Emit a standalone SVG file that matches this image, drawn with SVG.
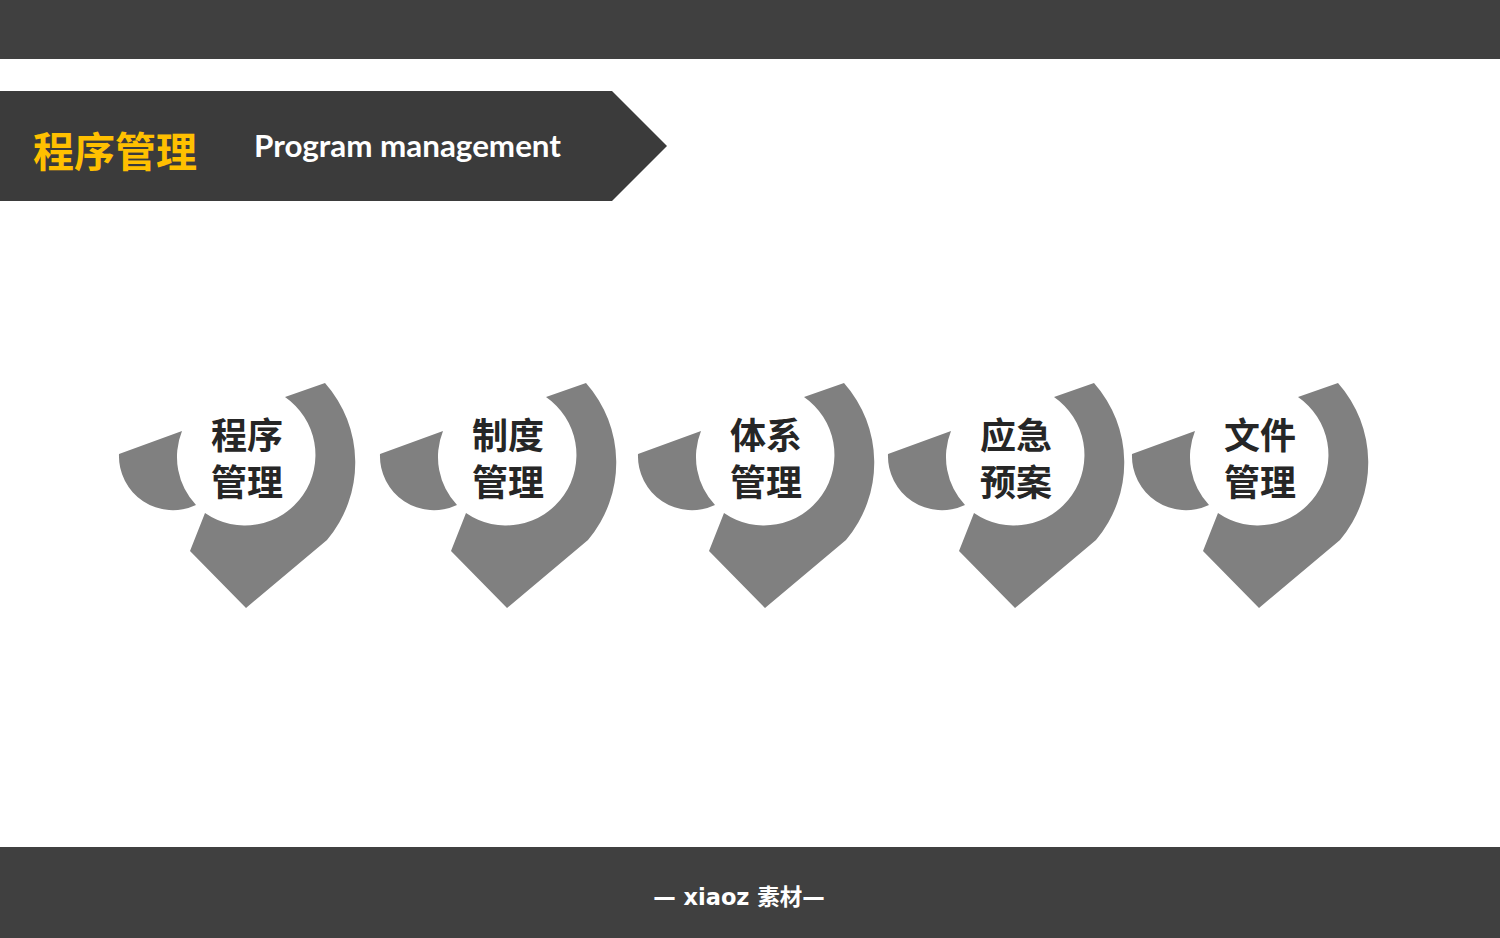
<svg xmlns="http://www.w3.org/2000/svg" xmlns:xlink="http://www.w3.org/1999/xlink" width="1500" height="938" viewBox="0 0 1500 938">
<style>
.piece{fill:#808080}
.lbl{font-family:"Noto Sans CJK SC","Noto Sans",sans-serif;font-weight:700;font-size:36px;fill:#262626;text-anchor:middle}
.bar{fill:#404040}
</style>
<defs>
<g id="pin">
<path class="piece" d="M 285,397 L 325,383 A 120 120 0 0 1 327,540 L 246,608 L 190,551 L 205,513 A 70 70 0 1 0 285,397 Z"/>
<path class="piece" d="M 119,454 L 182,431 A 70 70 0 0 0 196,505 A 54 54 0 0 1 119,454 Z"/>
</g>
</defs>
<rect width="1500" height="938" fill="#ffffff"/>
<rect class="bar" x="0" y="0" width="1500" height="59"/>
<rect class="bar" x="0" y="847" width="1500" height="91"/>
<g id="banner">
<path d="M 0,91 L 612,91 L 667,146 L 612,201 L 0,201 Z" fill="#3b3b3b"/>
<text x="33" y="167" font-family="'Noto Sans CJK SC',sans-serif" font-weight="700" font-size="41" fill="#FFC000">程序管理</text>
<text x="254" y="157" font-family="Lato,'Noto Sans',sans-serif" font-weight="700" font-size="31" fill="#ffffff" textLength="307" lengthAdjust="spacingAndGlyphs">Program management</text>
</g>
<g id="connectors"></g>
<g id="node1"><use xlink:href="#pin"/><text class="lbl" x="247" y="449">程序</text><text class="lbl" x="247" y="496">管理</text></g>
<g id="node2"><use xlink:href="#pin" transform="translate(261,0)"/><text class="lbl" x="508" y="449">制度</text><text class="lbl" x="508" y="496">管理</text></g>
<g id="node3"><use xlink:href="#pin" transform="translate(519,0)"/><text class="lbl" x="766" y="449">体系</text><text class="lbl" x="766" y="496">管理</text></g>
<g id="node4"><use xlink:href="#pin" transform="translate(769,0)"/><text class="lbl" x="1016" y="449">应急</text><text class="lbl" x="1016" y="496">预案</text></g>
<g id="node5"><use xlink:href="#pin" transform="translate(1013,0)"/><text class="lbl" x="1260" y="449">文件</text><text class="lbl" x="1260" y="496">管理</text></g>
<text x="739" y="905" text-anchor="middle" font-family="'DejaVu Sans','Noto Sans CJK SC',sans-serif" font-weight="700" font-size="22.5" fill="#ffffff">— xiaoz 素材—</text>
</svg>
